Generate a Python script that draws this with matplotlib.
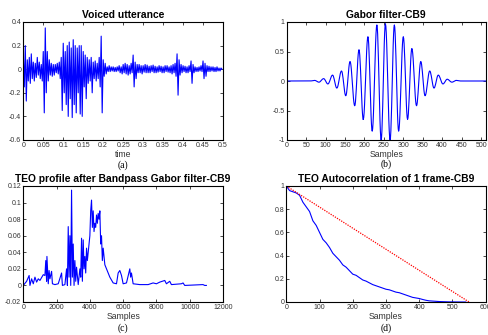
import numpy as np
import matplotlib
matplotlib.use("Agg")
import matplotlib.pyplot as plt

# ---------------- data ----------------
# (a) voiced utterance, one value every 2.5 ms
wave_dt = 0.0025
wave_vals = [
    0.12, -0.15, 0.2, -0.27, 0.08, -0.1, 0.1, -0.12,
    0.13, -0.08, 0.06, -0.1, 0.05, -0.07, 0.1, -0.05,
    0.06, -0.08, 0.04, -0.1, 0.15, -0.37, 0.35, -0.2,
    0.15, -0.1, 0.08, -0.05, 0.05, -0.06, 0.04, -0.05,
    0.04, -0.03, 0.05, -0.04, 0.06, -0.08, 0.1, -0.35,
    0.22, -0.2, 0.15, -0.3, 0.2, -0.4, 0.23, -0.25,
    0.18, -0.41, 0.25, -0.3, 0.2, -0.37, 0.18, -0.2,
    0.2, -0.38, 0.2, -0.4, 0.15, -0.15, 0.12, -0.25,
    0.1, -0.12, 0.08, -0.1, 0.1, -0.2, 0.06, -0.08,
    0.07, -0.1, 0.05, -0.08, 0.1, -0.15, 0.28, -0.37,
    0.08, -0.06, 0.05, -0.04, 0.02, -0.02, 0.03, -0.02,
    0.02, -0.015, 0.02, -0.02, 0.015, -0.02, 0.02, -0.015,
    0.03, -0.03, 0.02, -0.04, 0.04, -0.03, 0.05, -0.04,
    0.04, -0.05, 0.03, -0.04, 0.05, -0.03, 0.12, -0.15,
    0.06, -0.08, 0.04, -0.03, 0.04, -0.03, 0.03, -0.04,
    0.03, -0.025, 0.04, -0.03, 0.035, -0.03, 0.025, -0.03,
    0.03, -0.02, 0.035, -0.03, 0.025, -0.03, 0.02, -0.025,
    0.03, -0.02, 0.025, -0.03, 0.02, -0.03, 0.03, -0.02,
    0.03, -0.025, 0.02, -0.03, 0.03, -0.04, 0.04, -0.03,
    0.05, -0.06, 0.13, -0.22, 0.08, -0.05, 0.04, -0.03,
    0.03, -0.02, 0.025, -0.03, 0.02, -0.03, 0.03, -0.02,
    0.07, -0.12, 0.04, -0.03, 0.02, -0.02, 0.015, -0.02,
    0.02, -0.015, 0.03, -0.02, 0.07, -0.08, 0.05, -0.06,
    0.03, -0.02, 0.025, -0.02, 0.02, -0.015, 0.02, -0.02,
    0.015, -0.02, 0.02, -0.015, 0.01, -0.015, 0.01, 0.0,
]

# (b) Gabor filter: extrema (sample, value)
gabor_n = [0, 60, 72, 83, 95, 106, 118, 129, 141, 152, 163, 175, 186, 197, 209,
           220, 232, 243, 254, 266, 277, 288, 300, 311, 322, 334, 345, 356, 368,
           379, 390, 402, 413, 425, 436, 448, 512]
gabor_v = [0.0, 0.0, 0.01, -0.02, 0.04, -0.05, 0.1, -0.12, 0.17, -0.25, 0.33,
           -0.42, 0.53, -0.65, 0.75, -0.85, 0.95, -1.0, 0.97, -1.0, 0.95, -0.85,
           0.75, -0.65, 0.55, -0.42, 0.33, -0.25, 0.17, -0.12, 0.1, -0.05, 0.03,
           -0.02, 0.01, 0.0, 0.0]

# (c) TEO profile (sample, value)
teo_n = [0, 200, 350, 400, 500, 600, 700, 800, 900, 1000, 1200, 1300, 1350, 1400,
         1420, 1500, 1550, 1600, 1700, 1750, 1900, 2100, 2300, 2350, 2500, 2600,
         2650, 2700, 2750, 2800, 2850, 2900, 2950, 3000, 3050, 3100, 3150, 3200,
         3300, 3400, 3450, 3500, 3550, 3600, 3650, 3700, 3750, 3800, 3850, 3900,
         3950, 4000, 4050, 4100, 4150, 4200, 4250, 4300, 4350, 4400, 4450, 4500,
         4550, 4600, 4650, 4700, 4750, 4800, 4900, 5000, 5200, 5400, 5600, 5700,
         5800, 5900, 6000, 6200, 6400, 6450, 6500, 6600, 7000, 7500, 7800, 8000,
         8200, 8500, 8600, 8800, 8900, 9500, 9600, 9700, 10800, 10900, 11000]
teo_v = [0.0, 0.005, 0.012, 0.0, 0.008, 0.002, 0.01, 0.004, 0.008, 0.006, 0.013,
         0.012, 0.03, 0.005, 0.035, 0.002, 0.018, 0.008, 0.017, 0.002, 0.001,
         0.002, 0.015, 0.0, 0.001, 0.02, 0.0, 0.071, 0.01, 0.06, 0.0, 0.115, 0.01,
         0.05, 0.0, 0.03, 0.005, 0.022, 0.001, 0.02, 0.01, 0.057, 0.005, 0.055,
         0.02, 0.035, 0.015, 0.045, 0.03, 0.04, 0.05, 0.06, 0.09, 0.103, 0.07,
         0.09, 0.065, 0.075, 0.07, 0.085, 0.075, 0.087, 0.08, 0.09, 0.05, 0.06,
         0.03, 0.045, 0.025, 0.02, 0.01, 0.003, 0.002, 0.015, 0.018, 0.012, 0.002,
         0.003, 0.02, 0.01, 0.015, 0.002, 0.001, 0.001, 0.003, 0.002, 0.004,
         0.006, 0.002, 0.005, 0.001, 0.002, 0.003, 0.0, 0.001, 0.0, 0.0]

# (d) TEO autocorrelation
acf_n = [0, 10, 20, 30, 40, 50, 60, 70, 80, 90, 100, 110, 120, 130, 140, 150, 160,
         170, 180, 190, 200, 210, 220, 230, 240, 250, 260, 270, 280, 290, 300, 310,
         320, 330, 340, 350, 360, 370, 380, 390, 400, 410, 420, 430, 440, 450, 460,
         470, 480, 490, 500, 510, 520, 540]
acf_v = [1.0, 0.96, 0.95, 0.94, 0.92, 0.86, 0.82, 0.78, 0.7, 0.66, 0.6, 0.54,
         0.51, 0.47, 0.42, 0.39, 0.36, 0.32, 0.3, 0.27, 0.24, 0.23, 0.21, 0.19,
         0.18, 0.165, 0.15, 0.14, 0.13, 0.12, 0.11, 0.105, 0.095, 0.085, 0.08,
         0.07, 0.06, 0.05, 0.04, 0.035, 0.03, 0.022, 0.015, 0.01, 0.008, 0.006,
         0.004, 0.003, 0.002, 0.001, 0.001, 0.0005, 0.0003, 0.0]
ref_n = [0, 550]
ref_v = [1.0, 0.0]

titles = ["Voiced utterance", "Gabor filter-CB9",
          "TEO profile after Bandpass Gabor filter-CB9",
          "TEO Autocorrelation of 1 frame-CB9"]
xlabels = ["time", "Samples", "Samples", "Samples"]
panel_tags = ["(a)", "(b)", "(c)", "(d)"]

# ---------------- figure ----------------
W, H = 489, 335
fig = plt.figure(figsize=(W / 100, H / 100), dpi=100)

def ax_at(l, t, r, b):
    return fig.add_axes([l / W, (H - b) / H, (r - l) / W, (b - t) / H])

boxes = [(23.3, 22, 223, 140), (286.7, 22, 485.7, 140),
         (23.3, 186, 223, 302), (286.3, 186, 485.7, 302)]
axes = [ax_at(*bx) for bx in boxes]

title_font = dict(family=["Liberation Sans", "DejaVu Sans"],
                  weight="bold", size=7.4)
tick_font = ["Liberation Sans", "DejaVu Sans"]
blue = "#0000ff"

def style(ax, i):
    ax.tick_params(direction="in", length=2, width=0.5, top=True, right=True,
                   labelsize=5, pad=1.5, colors="black")
    for lab in ax.get_xticklabels() + ax.get_yticklabels():
        lab.set_family(tick_font)
        lab.set_color("#333333")
    for s in ax.spines.values():
        s.set_linewidth(0.8)
    ax.set_title(titles[i], pad=3, **title_font)
    ax.set_xlabel(xlabels[i], family=tick_font, size=6.2, labelpad=1, color="#333333")

# (a)
ax = axes[0]
t = np.arange(len(wave_vals)) * wave_dt
ax.plot(t, wave_vals, color=blue, lw=0.8)
ax.set_xlim(0, 0.5)
ax.set_ylim(-0.6, 0.4)
ax.set_xticks(np.arange(0, 0.501, 0.05))
ax.set_xticklabels(["0", "0.05", "0.1", "0.15", "0.2", "0.25", "0.3", "0.35",
                    "0.4", "0.45", "0.5"])
ax.set_yticks([-0.6, -0.4, -0.2, 0, 0.2, 0.4])
ax.set_yticklabels(["-0.6", "-0.4", "-0.2", "0", "0.2", "0.4"])
style(ax, 0)

# (b) smooth half-cycles between the read extrema
ax = axes[1]
xs, ys = [], []
for k in range(len(gabor_n) - 1):
    n0, n1 = gabor_n[k], gabor_n[k + 1]
    v0, v1 = gabor_v[k], gabor_v[k + 1]
    s = np.linspace(0, 1, 12)
    xs.append(n0 + (n1 - n0) * s)
    ys.append(v0 + (v1 - v0) * (1 - np.cos(np.pi * s)) / 2)
ax.plot(np.concatenate(xs), np.concatenate(ys), color=blue, lw=0.8)
ax.set_xlim(0, 512)
ax.set_ylim(-1, 1)
ax.set_xticks(np.arange(0, 501, 50))
ax.set_yticks([-1, -0.5, 0, 0.5, 1])
ax.set_yticklabels(["-1", "-0.5", "0", "0.5", "1"])
style(ax, 1)

# (c)
ax = axes[2]
ax.plot(teo_n, teo_v, color=blue, lw=0.8)
ax.set_xlim(0, 12000)
ax.set_ylim(-0.02, 0.12)
ax.set_xticks(np.arange(0, 12001, 2000))
ax.set_yticks([-0.02, 0, 0.02, 0.04, 0.06, 0.08, 0.1, 0.12])
ax.set_yticklabels(["-0.02", "0", "0.02", "0.04", "0.06", "0.08", "0.1", "0.12"])
style(ax, 2)

# (d)
ax = axes[3]
ax.plot(acf_n, acf_v, color=blue, lw=0.8)
ax.plot(ref_n, ref_v, color="red", lw=0.9, linestyle=(0, (1, 1)))
ax.set_xlim(0, 600)
ax.set_ylim(0, 1)
ax.set_xticks(np.arange(0, 601, 100))
ax.set_yticks([0, 0.2, 0.4, 0.6, 0.8, 1])
ax.set_yticklabels(["0", "0.2", "0.4", "0.6", "0.8", "1"])
style(ax, 3)

# panel tags
tag_pos = [(123, 165), (386, 164), (123, 328), (386, 328)]
for tag, (x, y) in zip(panel_tags, tag_pos):
    fig.text(x / W, (H - y) / H, tag, ha="center", va="center",
             family=["Liberation Serif", "DejaVu Serif"], size=7)

fig.savefig("out.png", dpi=100)
